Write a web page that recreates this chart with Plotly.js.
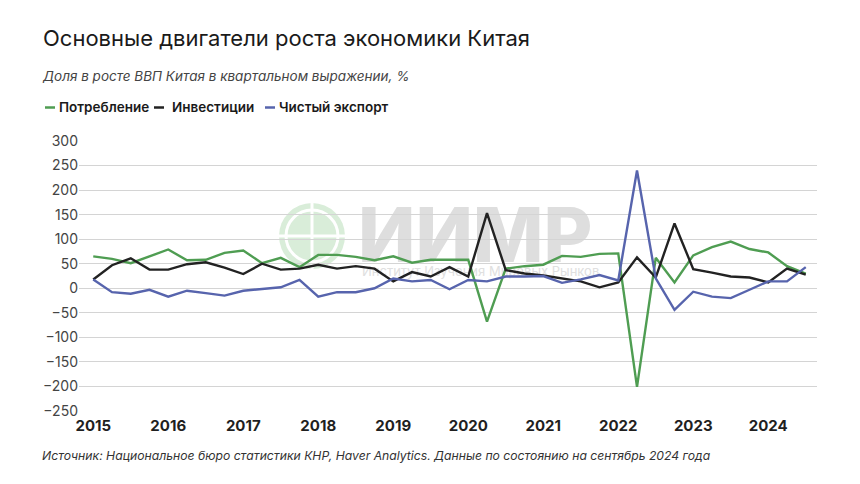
<!DOCTYPE html>
<html>
<head>
<meta charset="utf-8">
<script src="https://cdn.plot.ly/plotly-3.0.1.min.js"></script>
<style>
	html, body { margin: 0; padding: 0; background: #ffffff; }
	#wrap { position: relative; width: 860px; height: 484px; }
	#mark { position: absolute; left: 0; top: 0; width: 860px; height: 484px; z-index: 0; }
	#chart { position: absolute; left: 0; top: 0; width: 860px; height: 484px; z-index: 1; }
</style>
</head>
<body>
<div id="wrap">
	<!-- faint logo watermark behind the plot -->
	<svg id="mark" width="860" height="484">
		<circle cx="312" cy="236" r="33" fill="#d9edd9"/>
		<circle cx="312" cy="236" r="26" fill="none" stroke="#ffffff" stroke-width="3"/>
		<line x1="279" y1="236" x2="345" y2="236" stroke="#ffffff" stroke-width="3"/>
		<line x1="312" y1="203" x2="312" y2="269" stroke="#ffffff" stroke-width="3"/>
		<text x="358" y="262" font-family="Inter, 'DejaVu Sans', sans-serif" font-weight="800" font-size="75" fill="#dedede">ИИМР</text>
		<text x="362" y="276" font-family="Inter, 'DejaVu Sans', sans-serif" font-size="13" fill="#e0e0e0">Институт Изучения Мировых Рынков</text>
	</svg>
	<div id="chart"></div>
</div>
<script>
var quarters = [
	'2015Q1','2015Q2','2015Q3','2015Q4','2016Q1','2016Q2','2016Q3','2016Q4',
	'2017Q1','2017Q2','2017Q3','2017Q4','2018Q1','2018Q2','2018Q3','2018Q4',
	'2019Q1','2019Q2','2019Q3','2019Q4','2020Q1','2020Q2','2020Q3','2020Q4',
	'2021Q1','2021Q2','2021Q3','2021Q4','2022Q1','2022Q2','2022Q3','2022Q4',
	'2023Q1','2023Q2','2023Q3','2023Q4','2024Q1','2024Q2','2024Q3'
];
var consumption = [65, 60, 51, 65, 79, 57, 58, 72, 77, 51, 62, 43, 68, 68, 64, 57, 65, 52, 58, 58,
	58, -68, 40, 45, 48, 66, 64, 70, 71, -201, 62, 12, 67, 84, 95, 80, 73, 45, 30];
var investment = [18, 47, 61, 38, 38, 49, 53, 42, 29, 50, 38, 40, 48, 40, 45, 40, 14, 33, 24, 43,
	24, 153, 37, 30, 26, 20, 14, 2, 12, 63, 22, 132, 39, 32, 24, 22, 12, 40, 28];
var netExport = [18, -8, -11, -3, -17, -5, -10, -15, -5, -1, 2, 17, -17, -8, -8, 0, 20, 14, 17, -2,
	17, 14, 24, 24, 25, 11, 18, 27, 16, 240, 20, -44, -7, -17, -20, -3, 14, 14, 43];
var yearTicks = ['2015Q1','2016Q1','2017Q1','2018Q1','2019Q1','2020Q1','2021Q1','2022Q1','2023Q1','2024Q1'];
var yearLabels = ['2015','2016','2017','2018','2019','2020','2021','2022','2023','2024'];
var seriesNames = ['Потребление', 'Инвестиции', 'Чистый экспорт'];

var GREEN = '#4f9d52';
var BLACK = '#222222';
var BLUE = '#5764ad';
var colors = [GREEN, BLACK, BLUE];
var FONT = 'Inter, "Open Sans", sans-serif';

// plot area in pixels: left 79, width 738, bottom 411, height 270
function px(x) { return (x - 79) / 738; }
function py(y) { return (411 - y) / 270; }

function line(name, y, color) {
	return {
		type: 'scatter',
		mode: 'lines',
		name: name,
		x: quarters,
		y: y,
		line: {color: color, width: 2.4},
		hoverinfo: 'x+y+name'
	};
}

var data = [
	line(seriesNames[0], consumption, GREEN),
	line(seriesNames[1], investment, BLACK),
	line(seriesNames[2], netExport, BLUE)
];

// hand-made legend: short thick dash + label
var legendDash = [45, 154, 265];
var legendText = [57, 170, 277];
var shapes = [];
var annotations = [];
for (var i = 0; i < 3; i++) {
	shapes.push({
		type: 'line', xref: 'paper', yref: 'paper',
		x0: px(legendDash[i]), x1: px(legendDash[i] + 10),
		y0: py(107.5), y1: py(107.5),
		line: {color: colors[i], width: 2.5}
	});
	annotations.push({
		xref: 'paper', yref: 'paper', x: px(legendText[i]), y: py(107),
		xanchor: 'left', yanchor: 'middle', showarrow: false,
		text: seriesNames[i],
		font: {family: FONT, size: 13.5, color: '#1a1a1a', weight: 600}
	});
}

annotations.push({
	xref: 'paper', yref: 'paper', x: px(40), y: py(76),
	xanchor: 'left', yanchor: 'middle', showarrow: false,
	text: '<i>Доля в росте ВВП Китая в квартальном выражении, %</i>',
	font: {family: FONT, size: 13.5, color: '#444444'}
});
annotations.push({
	xref: 'paper', yref: 'paper', x: px(40), y: py(455),
	xanchor: 'left', yanchor: 'middle', showarrow: false,
	text: '<i>Источник: Национальное бюро статистики КНР, Haver Analytics. Данные по состоянию на сентябрь 2024 года</i>',
	font: {family: FONT, size: 12.2, color: '#333333'}
});

var layout = {
	width: 860,
	height: 484,
	margin: {l: 79, r: 43, t: 141, b: 73},
	paper_bgcolor: 'rgba(0,0,0,0)',
	plot_bgcolor: 'rgba(0,0,0,0)',
	showlegend: false,
	font: {family: FONT, color: '#333333'},
	title: {
		text: 'Основные двигатели роста экономики Китая',
		x: 43 / 860, xanchor: 'left', xref: 'container',
		y: 1 - 38 / 484, yanchor: 'middle', yref: 'container',
		font: {family: FONT, size: 22, color: '#1a1a1a'}
	},
	xaxis: {
		type: 'category',
		range: [-0.76, 38.6],
		tickvals: yearTicks,
		ticktext: yearLabels,
		showgrid: false,
		zeroline: false,
		showline: false,
		ticks: '',
		ticklabelstandoff: 4,
		tickfont: {family: FONT, size: 15, color: '#1f1f1f', weight: 700}
	},
	yaxis: {
		range: [-250, 300],
		dtick: 50,
		showgrid: true,
		gridcolor: '#d4d4d4',
		gridwidth: 1,
		zeroline: false,
		showline: false,
		ticks: '',
		ticklabelstandoff: 0,
		tickfont: {family: FONT, size: 14, color: '#444444'}
	},
	shapes: shapes,
	annotations: annotations
};

Plotly.newPlot('chart', data, layout, {displayModeBar: false, staticPlot: true});
</script>
</body>
</html>
